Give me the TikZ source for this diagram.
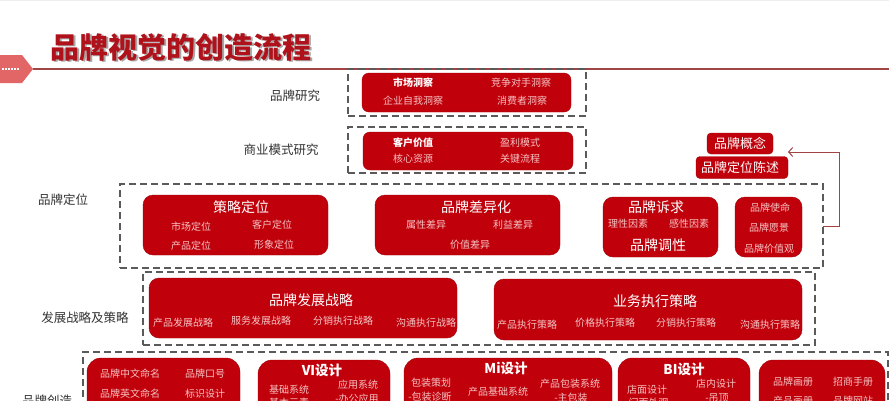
\documentclass[tikz,border=0pt]{standalone}
\usepackage{fontspec}
\setmainfont{Noto Sans CJK SC}
\usetikzlibrary{arrows.meta}
\definecolor{boxred}{HTML}{C0000A}
\definecolor{subpink}{HTML}{F6C4C4}
\definecolor{titlered}{HTML}{B0121C}
\definecolor{dashgray}{HTML}{5A5A5A}
\definecolor{linered}{HTML}{A04444}
\definecolor{arrowsalmon}{HTML}{E26666}
\definecolor{gridc}{HTML}{EEEEEE}
\tikzset{
  redbox/.style={fill=boxred, draw=boxred!85!black, line width=0.4pt, rounded corners=7pt, inner sep=0pt, outer sep=0pt},
  bigred/.style={redbox, rounded corners=14pt},
  dbox/.style={draw=dashgray, line width=2.6pt, dash pattern=on 7pt off 4pt, inner sep=0pt, outer sep=0pt},
  subt/.style={text=subpink, font=\fontsize{10}{12}\selectfont, inner sep=0pt},
  whitet/.style={text=white, font=\fontsize{13}{15}\selectfont, inner sep=0pt},
  headt/.style={text=white, font=\fontsize{14}{16}\selectfont, inner sep=0pt},
  boldhead/.style={text=white, font=\bfseries\fontsize{13.5}{15}\selectfont, inner sep=0pt},
  boldsub/.style={text=white, font=\bfseries\fontsize{10}{12}\selectfont, inner sep=0pt},
  lab/.style={text=black!80, font=\fontsize{12.5}{14}\selectfont, inner sep=0pt},
  conn/.style={draw=linered, line width=1pt, -{Straight Barb[length=4pt,width=9pt]}},
}
\begin{document}
\begin{tikzpicture}[x=1pt,y=-1pt]
\useasboundingbox (0,0) rectangle (889,400);
\clip (0,0) rectangle (889,400);
\fill[white] (0,0) rectangle (889,400);
\draw[gridc, line width=0.3pt, step=5pt] (0,0) grid (889,-400);
% title
\node[text=black!35, font=\bfseries\fontsize{29}{32}\selectfont, inner sep=0pt] (titleshadow) at (182.5,48.5) {品牌视觉的创造流程};
\node[text=titlered, font=\bfseries\fontsize{29}{32}\selectfont, inner sep=0pt] (title) at (181,47) {品牌视觉的创造流程};
\fill[arrowsalmon] (0,55) -- (22,55) -- (33,69) -- (22,83) -- (0,83) -- cycle;
\foreach \xx in {2,5,8,11,14,17} {\fill[white] (\xx,68) rectangle ++(1.6,1.6);}
\foreach \xx/\yy in {17,62, 19,65, 21,68, 19,71, 17,74} {\fill[white] (\xx,\yy) rectangle ++(1.6,1.6);}
\coordinate (rulestart) at (33,69);
\coordinate (ruleend) at (889,69);
\draw[linered, line width=1.2pt] (rulestart) -- (ruleend);
% left labels
\node[lab] (l1) at (295,96) {品牌研究};
\node[lab] (l2) at (281,150) {商业模式研究};
\node[lab] (l3) at (63,200) {品牌定位};
\node[lab] (l4) at (85,318) {发展战略及策略};
\node[lab] (l5) at (47,401) {品牌创造};
% row 1
\node[dbox, minimum width=238pt, minimum height=47pt] (d1) at (467,92.5) {};
\node[redbox, minimum width=209pt, minimum height=39pt] (b1) at (466.5,92.5) {};
\node[boldsub] (t11) at (413,83) {市场洞察};
\node[subt] (t12) at (521,83) {竞争对手洞察};
\node[subt] (t13) at (413,101) {企业自我洞察};
\node[subt] (t14) at (522,101) {消费者洞察};
% row 2
\node[dbox, minimum width=238pt, minimum height=46pt] (d2) at (467,150) {};
\node[redbox, minimum width=210pt, minimum height=38pt] (b2) at (468,151) {};
\node[boldsub] (t21) at (413,143) {客户价值};
\node[subt] (t22) at (520,143) {盈利模式};
\node[subt] (t23) at (413,159) {核心资源};
\node[subt] (t24) at (520,159) {关键流程};
% concept boxes
\node[redbox, rounded corners=4pt, minimum width=66pt, minimum height=21pt] (concept) at (740,143.5) {};
\node[whitet] (tc1) at (740,143.5) {品牌概念};
\node[redbox, rounded corners=4pt, minimum width=92pt, minimum height=22pt] (statement) at (742,167.5) {};
\node[whitet] (tc2) at (740,167.5) {品牌定位陈述};
% row 3
\node[dbox, minimum width=703pt, minimum height=84pt] (d3) at (471.5,226) {};
\node[redbox, rounded corners=10pt, minimum width=185pt, minimum height=60pt] (p1) at (235.5,225) {};
\node[headt] (t31) at (241,207) {策略定位};
\node[subt] (t32) at (191,227) {市场定位};
\node[subt] (t33) at (272,225) {客户定位};
\node[subt] (t34) at (191,246) {产品定位};
\node[subt] (t35) at (274,245) {形象定位};
\node[redbox, rounded corners=10pt, minimum width=185pt, minimum height=60pt] (p2) at (467.5,225) {};
\node[headt] (t41) at (476,207) {品牌差异化};
\node[subt] (t42) at (426,225) {属性差异};
\node[subt] (t43) at (513,225) {利益差异};
\node[subt] (t44) at (470,245) {价值差异};
\node[redbox, rounded corners=10pt, minimum width=115pt, minimum height=60pt] (p3) at (660.5,227) {};
\node[headt] (t51) at (656,207) {品牌诉求};
\node[subt] (t52) at (628,224) {理性因素};
\node[subt] (t53) at (689,224) {感性因素};
\node[headt] (t54) at (658,245) {品牌调性};
\node[redbox, rounded corners=10pt, minimum width=67pt, minimum height=60pt] (p4) at (768.5,227) {};
\node[subt] (t61) at (770,208) {品牌使命};
\node[subt] (t62) at (769,228) {品牌愿景};
\node[subt] (t63) at (769,249) {品牌价值观};
% connector
\coordinate (k1) at (839,226);
\coordinate (k2) at (839,152);
\coordinate (k3) at (788,152);
\draw[conn] (d3.east) -- (k1) -- (k2) -- (k3);
% row 4
\node[dbox, minimum width=672pt, minimum height=73pt] (d4) at (479,308.5) {};
\node[redbox, rounded corners=10pt, minimum width=308pt, minimum height=60pt] (s1) at (303,308) {};
\node[headt] (t71) at (311,300) {品牌发展战略};
\node[subt] (t72) at (183,323) {产品发展战略};
\node[subt] (t73) at (261,321) {服务发展战略};
\node[subt] (t74) at (343,321) {分销执行战略};
\node[subt] (t75) at (426,323) {沟通执行战略};
\node[redbox, rounded corners=10pt, minimum width=308pt, minimum height=61pt] (s2) at (648,309.5) {};
\node[headt] (t81) at (655,301) {业务执行策略};
\node[subt] (t82) at (527,325) {产品执行策略};
\node[subt] (t83) at (605,323) {价格执行策略};
\node[subt] (t84) at (686,323) {分销执行策略};
\node[subt] (t85) at (770,325) {沟通执行策略};
% row 5
\node[dbox, minimum width=805pt, minimum height=68pt] (d5) at (485.5,386) {};
\node[bigred, minimum width=153pt, minimum height=72pt] (c1) at (163.5,394) {};
\node[subt] (u11) at (130,374) {品牌中文命名};
\node[subt] (u12) at (205,374) {品牌口号};
\node[subt] (u13) at (130,394) {品牌英文命名};
\node[subt] (u14) at (205,394) {标识设计};
\node[bigred, minimum width=132pt, minimum height=70pt] (c2) at (324,395) {};
\node[boldhead] (u21) at (322,370) {VI设计};
\node[subt] (u22) at (289,390) {基础系统};
\node[subt] (u23) at (358,385) {应用系统};
\node[subt] (u24) at (289,403) {基本元素};
\node[subt] (u25) at (357,399) {-办公应用};
\node[bigred, minimum width=208pt, minimum height=72pt] (c3) at (508,394) {};
\node[boldhead] (u31) at (506,368) {Mi设计};
\node[subt] (u32) at (431,383) {包装策划};
\node[subt] (u33) at (430,397) {-包装诊断};
\node[subt] (u34) at (498,392) {产品基础系统};
\node[subt] (u35) at (570,384) {产品包装系统};
\node[subt] (u36) at (571,398) {-主包装};
\node[bigred, minimum width=132pt, minimum height=72pt] (c4) at (684,394) {};
\node[boldhead] (u41) at (684,369) {BI设计};
\node[subt] (u42) at (647,390) {店面设计};
\node[subt] (u43) at (647,403) {-门面外观};
\node[subt] (u44) at (716,384) {店内设计};
\node[subt] (u45) at (717,398) {-吊顶};
\node[bigred, minimum width=126pt, minimum height=70pt] (c5) at (822,395) {};
\node[subt] (u51) at (793,382) {品牌画册};
\node[subt] (u52) at (853,382) {招商手册};
\node[subt] (u53) at (793,401) {产品画册};
\node[subt] (u54) at (853,401) {品牌网站};
\end{tikzpicture}
\end{document}
